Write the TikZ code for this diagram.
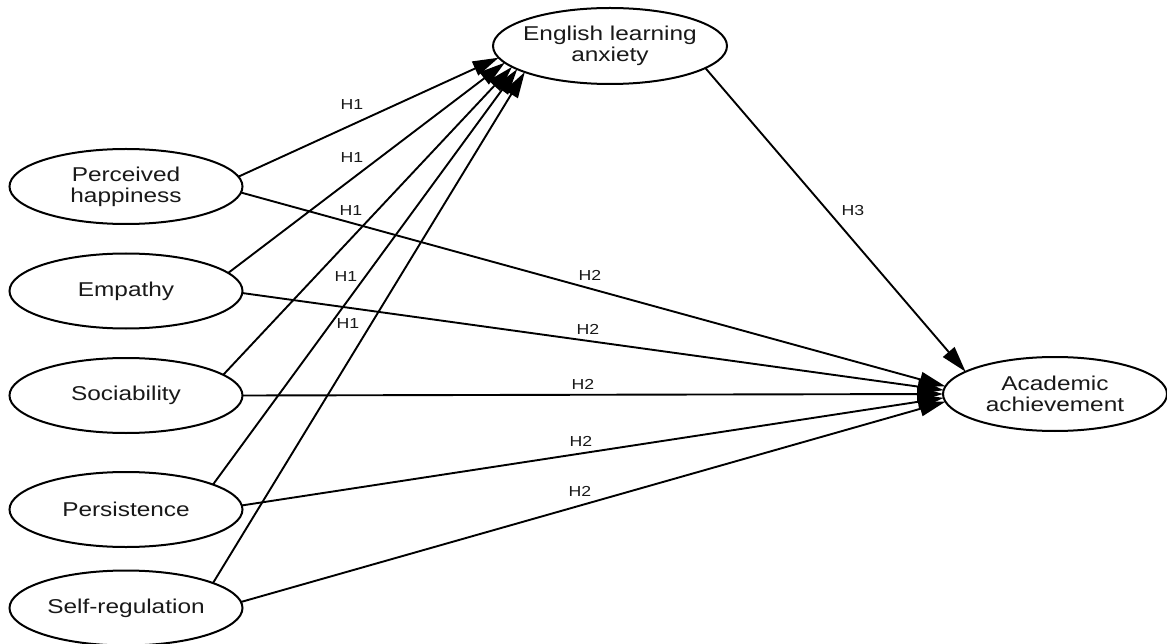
\documentclass[tikz,border=0pt]{standalone}
\usepackage{fontspec}
\setmainfont{Liberation Sans}[FakeStretch=1.22]
\usetikzlibrary{shapes.geometric,arrows.meta}
\begin{document}
\begin{tikzpicture}[x=1pt,y=-1pt,
  latent/.style={draw=black, line width=2pt, ellipse, minimum width=233pt, minimum height=75pt,
    inner xsep=-20pt, inner ysep=-5pt, outer sep=0pt, align=center,
    font=\fontsize{20}{21}\selectfont, text=black!90},
  hpath/.style={draw=black, line width=1.9pt, -{Triangle[length=26pt,width=15pt]}},
  hyp/.style={font=\fontsize{14.5}{14.5}\selectfont, text=black!90, inner sep=0pt}]
\path[use as bounding box, fill=white] (0,0) rectangle (1167,644);

% latent variables
\node[latent] (ph)  at (126,186.5) {Perceived\\happiness};
\node[latent] (emp) at (126,291)   {Empathy};
\node[latent] (soc) at (126,395.5) {Sociability};
\node[latent] (per) at (126,509.5) {Persistence};
\node[latent] (sr)  at (126,608)   {Self-regulation};
\node[latent, minimum width=234pt, minimum height=76pt] (ela) at (610,46) {English learning\\anxiety};
\node[latent, minimum width=224pt, minimum height=74pt] (aa)  at (1055,394) {Academic\\achievement};

% H1 paths
\draw[hpath] (ph.5)   -- (ela.186);
\draw[hpath] (emp.10) -- (ela.189);
\draw[hpath] (soc.12) -- (ela.192);
\draw[hpath] (per.16) -- (ela.194);
\draw[hpath] (sr.16)  -- (ela.197);

% H2 paths
\draw[hpath] (ph.-3)  -- (aa.176);
\draw[hpath] (emp.-1) -- (aa.178);
\draw[hpath] (soc.0)  -- (aa.180);
\draw[hpath] (per.2)  -- (aa.182);
\draw[hpath] (sr.3)   -- (aa.184);

% H3 path
\draw[hpath] (ela.-13) -- (aa.166);

% labels
\node[hyp] (h1a) at (352,105) {H1};
\node[hyp] (h1b) at (352,158) {H1};
\node[hyp] (h1c) at (351,211) {H1};
\node[hyp] (h1d) at (346,277) {H1};
\node[hyp] (h1e) at (348,324) {H1};
\node[hyp] (h2a) at (590,275) {H2};
\node[hyp] (h2b) at (588,329) {H2};
\node[hyp] (h2c) at (583,384) {H2};
\node[hyp] (h2d) at (581,441) {H2};
\node[hyp] (h2e) at (580,491) {H2};
\node[hyp] (h3)  at (853,211) {H3};
\end{tikzpicture}
\end{document}
